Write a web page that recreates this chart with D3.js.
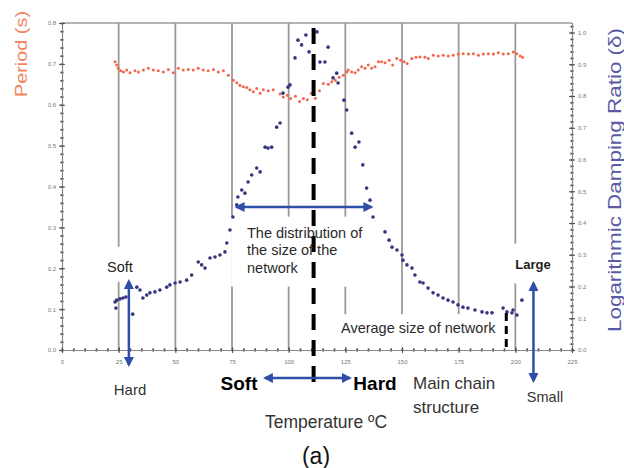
<!DOCTYPE html>
<html>
<head>
<meta charset="utf-8">
<script src="https://cdn.jsdelivr.net/npm/d3@7"></script>
<style>
  html, body { margin: 0; padding: 0; background: #fff; }
  svg { display: block; font-family: "Liberation Sans", Arial, sans-serif; }
</style>
</head>
<body>
<svg id="chart" width="624" height="468"></svg>
<script>
// Period (s) against temperature (°C)
const periodT = [23.4,24.1,24.8,25.9,27.1,28.5,30.0,32.2,33.7,35.9,38.1,40.3,42.5,44.7,46.9,49.1,51.3,53.5,55.7,57.9,
  60.1,62.3,64.5,66.8,69.0,71.2,73.4,75.6,77.1,78.5,80.0,81.5,82.9,84.4,85.9,87.4,88.8,91.0,93.2,96.2,
  97.6,99.4,100.9,103.0,104.8,106.5,108.2,110.0,111.8,113.6,115.3,117.5,119.0,120.6,122.3,124.1,125.6,126.3,127.8,129.3,
  130.7,132.2,133.7,135.1,136.6,138.1,139.6,141.0,142.5,144.4,145.9,147.7,149.4,150.9,152.3,154.3,156.2,157.9,160.1,161.6,
  163.8,166.0,168.2,170.4,172.6,174.8,177.0,179.3,181.5,183.7,185.9,188.1,190.3,192.5,194.7,196.9,199.1,200.6,202.1,203.2];
const periodP = [0.705,0.697,0.689,0.683,0.680,0.685,0.678,0.683,0.680,0.685,0.689,0.685,0.683,0.680,0.686,0.678,0.689,0.685,0.686,0.685,
  0.689,0.685,0.683,0.686,0.680,0.683,0.672,0.660,0.654,0.648,0.644,0.642,0.637,0.632,0.640,0.628,0.637,0.634,0.637,0.626,
  0.619,0.623,0.615,0.621,0.608,0.615,0.612,0.628,0.616,0.634,0.652,0.650,0.656,0.660,0.667,0.672,0.680,0.685,0.680,0.678,
  0.685,0.693,0.689,0.697,0.689,0.693,0.705,0.705,0.703,0.709,0.697,0.713,0.709,0.705,0.701,0.713,0.716,0.717,0.716,0.713,
  0.721,0.719,0.721,0.719,0.721,0.724,0.725,0.724,0.725,0.721,0.724,0.725,0.724,0.727,0.724,0.725,0.729,0.725,0.719,0.716];

// Logarithmic damping ratio (δ) against temperature (°C)
const dampT = [23.4,23.8,24.1,25.6,26.9,28.2,31.2,33.0,34.4,35.7,37.4,38.8,41.0,43.2,46.2,47.6,49.9,52.1,55.0,57.2,
  60.1,61.6,63.1,65.3,67.5,69.7,71.9,72.7,74.1,75.4,77.1,77.6,79.3,80.7,82.1,83.7,85.9,87.4,89.6,90.9,
  92.5,94.7,96.2,97.5,99.7,100.6,102.8,104.1,105.7,107.6,109.0,112.5,113.8,116.0,117.4,119.6,121.2,121.8,124.4,125.6,
  127.8,129.3,131.0,132.7,134.4,135.9,137.2,142.5,144.3,145.6,147.8,150.0,150.4,152.2,154.4,155.7,157.9,159.3,161.5,163.7,
  165.9,168.1,170.3,172.5,174.7,176.9,179.1,182.2,185.3,187.5,189.7,194.6,196.3,198.5,199.0,200.7,202.9];
const dampD = [0.151,0.132,0.157,0.161,0.164,0.167,0.113,0.198,0.189,0.164,0.173,0.180,0.183,0.189,0.198,0.205,0.211,0.214,0.220,0.236,
  0.277,0.268,0.258,0.290,0.293,0.299,0.309,0.337,0.378,0.419,0.457,0.482,0.504,0.494,0.529,0.551,0.573,0.561,0.639,0.636,
  0.639,0.702,0.715,0.809,0.828,0.835,0.920,0.976,0.961,0.992,0.939,1.002,0.907,0.907,0.954,0.857,0.872,0.841,0.787,0.756,
  0.683,0.639,0.655,0.583,0.510,0.472,0.419,0.372,0.346,0.324,0.315,0.299,0.283,0.268,0.258,0.236,0.214,0.211,0.195,0.180,
  0.173,0.164,0.157,0.151,0.142,0.135,0.132,0.126,0.120,0.117,0.117,0.132,0.120,0.117,0.126,0.110,0.157];

// Axis ticks
const tempTicks = [0,25,50,75,100,125,150,175,200,225];
const periodTicks = [0,0.1,0.2,0.3,0.4,0.5,0.6,0.7,0.8];
const dampTicks = [0,0.1,0.2,0.3,0.4,0.5,0.6,0.7,0.8,0.9,1.0];

// Marker temperatures: network size peak and average-size marker
const peakTemp = 111;
const avgTemp = 196;

const svg = d3.select("#chart");
const x = d3.scaleLinear().domain([0, 225]).range([62, 572]);
const yL = d3.scaleLinear().domain([0, 0.8]).range([350, 23]);
const yR = d3.scaleLinear().domain([0, 1.03]).range([350, 23]);

const gridColor = "#9a9a9a";
const arrowColor = "#2f4ea8";

// arrow heads
const defs = svg.append("defs");
defs.append("marker").attr("id", "head")
  .attr("viewBox", "0 0 10 10").attr("refX", 8).attr("refY", 5)
  .attr("markerWidth", 4).attr("markerHeight", 4).attr("orient", "auto-start-reverse")
  .append("path").attr("d", "M0,0 L10,5 L0,10 z").attr("fill", arrowColor);

// vertical grid lines and top border
svg.append("g").selectAll("line").data(tempTicks.filter(t => t > 0 && t < 225)).join("line")
  .attr("x1", d => x(d)).attr("x2", d => x(d))
  .attr("y1", yL(0.8)).attr("y2", yL(0))
  .attr("stroke", gridColor).attr("stroke-width", 1.8);
svg.append("line").attr("x1", x(0)).attr("x2", x(225)).attr("y1", yL(0.8)).attr("y2", yL(0.8))
  .attr("stroke", gridColor).attr("stroke-width", 1.5);

// white boxes behind the annotation texts
const boxes = [
  { t0: 18.9, t1: 32.8, d0: 0.215, d1: 0.325 },   // Soft
  { t0: 74.6, t1: 136.8, d0: 0.2, d1: 0.42 },     // distribution label
  { t0: 121.3, t1: 195.9, d0: 0.003, d1: 0.113 }, // average size label
  { t0: 197.6, t1: 220, d0: 0.21, d1: 0.335 }     // Large
];
svg.append("g").selectAll("rect").data(boxes).join("rect")
  .attr("x", d => x(d.t0)).attr("width", d => x(d.t1) - x(d.t0))
  .attr("y", d => yR(d.d1)).attr("height", d => yR(d.d0) - yR(d.d1))
  .attr("fill", "#fff");

// axes
function styleAxis(g) {
  g.select(".domain").attr("stroke", "#888").attr("stroke-width", 1.2);
  g.selectAll(".tick text").attr("fill", "#777").attr("font-size", 6);
}
const minorL = d3.range(0, 0.8001, 0.02);
const minorR = d3.range(0, 1.0301, 0.02);
const minorX = d3.range(0, 225.01, 5);

svg.append("g").attr("transform", `translate(${x(0)},0)`)
  .call(d3.axisLeft(yL).tickValues(minorL).tickSize(0).tickFormat(""))
  .call(g => g.selectAll(".tick line").attr("x1", -1.5).attr("x2", 1.5).attr("stroke", "#333").attr("stroke-width", 1.6));
svg.append("g").attr("transform", `translate(${x(0)},0)`)
  .call(d3.axisLeft(yL).tickValues(periodTicks).tickSize(0).tickPadding(6).tickFormat(d3.format(".1f")))
  .call(styleAxis)
  .call(g => g.selectAll(".tick line").attr("x1", -3).attr("x2", 3).attr("stroke", "#555").attr("stroke-width", 1));

svg.append("g").attr("transform", `translate(${x(225)},0)`)
  .call(d3.axisRight(yR).tickValues(minorR).tickSize(0).tickFormat(""))
  .call(g => g.selectAll(".tick line").attr("x1", -1.5).attr("x2", 1.5).attr("stroke", "#333").attr("stroke-width", 1.6));
svg.append("g").attr("transform", `translate(${x(225)},0)`)
  .call(d3.axisRight(yR).tickValues(dampTicks).tickSize(0).tickPadding(6).tickFormat(d3.format(".1f")))
  .call(styleAxis)
  .call(g => g.selectAll(".tick line").attr("x1", -3).attr("x2", 3).attr("stroke", "#555").attr("stroke-width", 1));

svg.append("g").attr("transform", `translate(0,${yL(0)})`)
  .call(d3.axisBottom(x).tickValues(minorX).tickSize(0).tickFormat(""))
  .call(g => g.selectAll(".tick line").attr("y1", -1.5).attr("y2", 1.5).attr("stroke", "#333").attr("stroke-width", 1.6));
svg.append("g").attr("transform", `translate(0,${yL(0)})`)
  .call(d3.axisBottom(x).tickValues(tempTicks).tickSize(0).tickPadding(10).tickFormat(d3.format("d")))
  .call(styleAxis)
  .call(g => g.selectAll(".tick line").attr("y1", -3).attr("y2", 3).attr("stroke", "#555").attr("stroke-width", 1));

// axis titles
svg.append("text").attr("transform", "translate(27,54) rotate(-90)")
  .attr("text-anchor", "middle").attr("font-size", 17).attr("fill", "#f4845f")
  .attr("textLength", 86).attr("lengthAdjust", "spacingAndGlyphs")
  .text("Period (s)");
svg.append("text").attr("transform", "translate(621,180) rotate(-90)")
  .attr("text-anchor", "middle").attr("font-size", 18).attr("fill", "#5a5aa6")
  .attr("textLength", 304).attr("lengthAdjust", "spacingAndGlyphs")
  .text("Logarithmic Damping Ratio (δ)");

// data points
svg.append("g").selectAll("circle").data(periodT.map((t, i) => [t, periodP[i]])).join("circle")
  .attr("cx", d => x(d[0])).attr("cy", d => yL(d[1])).attr("r", 1.5).attr("fill", "#f2664c");
svg.append("g").selectAll("circle").data(dampT.map((t, i) => [t, dampD[i]])).join("circle")
  .attr("cx", d => x(d[0])).attr("cy", d => yR(d[1])).attr("r", 1.8).attr("fill", "#34347f");

// dashed marker lines
svg.append("line").attr("x1", x(peakTemp)).attr("x2", x(peakTemp)).attr("y1", 28).attr("y2", 385)
  .attr("stroke", "#000").attr("stroke-width", 4).attr("stroke-dasharray", "16,10");
svg.append("line").attr("x1", x(avgTemp)).attr("x2", x(avgTemp)).attr("y1", 313).attr("y2", 350)
  .attr("stroke", "#000").attr("stroke-width", 3).attr("stroke-dasharray", "8,5");

// arrows
function arrow(x1, y1, x2, y2) {
  svg.append("line").attr("x1", x1).attr("y1", y1).attr("x2", x2).attr("y2", y2)
    .attr("stroke", arrowColor).attr("stroke-width", 2.5)
    .attr("marker-start", "url(#head)").attr("marker-end", "url(#head)");
}
arrow(x(29.5), 281, x(29.5), 365);     // Soft / Hard
arrow(x(77), 207, x(136.5), 207);      // distribution of network size
arrow(x(208), 283, x(208), 381);       // Large / Small
arrow(x(89.5), 378, x(127), 378);      // Soft / Hard main chain

// annotation texts
function label(txt, tx, ty, size, opts = {}) {
  svg.append("text").attr("x", tx).attr("y", ty).attr("font-size", size)
    .attr("fill", opts.fill || "#1e1e1e")
    .attr("font-weight", opts.bold ? "bold" : "normal")
    .attr("text-anchor", opts.anchor || "start")
    .text(txt);
}
label("Soft", 120, 272, 14.5, { anchor: "middle" });
label("Hard", 130, 395, 15, { anchor: "middle", fill: "#333" });
label("The distribution of", 247, 238, 14.5, { fill: "#2a2a2a" });
label("the size of the", 247, 255, 14.5, { fill: "#2a2a2a" });
label("network", 247, 273, 14.5, { fill: "#2a2a2a" });
label("Average size of network", 341, 333, 14.5, { fill: "#2a2a2a" });
label("Large", 533, 269, 13, { anchor: "middle", bold: true });
label("Small", 545, 402, 14.5, { anchor: "middle", fill: "#333" });
label("Soft", 239, 390, 19, { anchor: "middle", bold: true, fill: "#000" });
label("Hard", 375, 390, 19, { anchor: "middle", bold: true, fill: "#000" });
label("Main chain", 413, 389, 17, { fill: "#333" });
label("structure", 413, 413, 17, { fill: "#333" });
label("Temperature ºC", 326, 428, 17.5, { anchor: "middle", fill: "#333" });
label("(a)", 316, 464, 23, { anchor: "middle", fill: "#111" });
</script>
</body>
</html>
